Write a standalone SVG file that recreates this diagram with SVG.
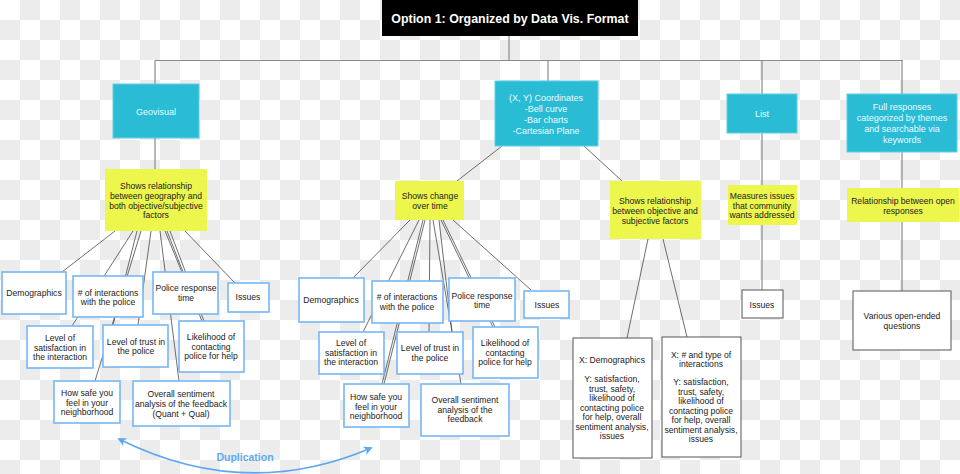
<svg xmlns="http://www.w3.org/2000/svg" width="960" height="474" viewBox="0 0 960 474">
<defs>
<pattern id="chk" width="40" height="40" patternUnits="userSpaceOnUse">
<rect width="40" height="40" fill="#ffffff"/>
<rect x="20" y="0" width="20" height="20" fill="#ececec"/>
<rect x="0" y="20" width="20" height="20" fill="#ececec"/>
</pattern>
<marker id="ah" viewBox="0 0 10 10" refX="8" refY="5" markerWidth="9" markerHeight="9" orient="auto-start-reverse" markerUnits="userSpaceOnUse">
<path d="M0,0 L10,5 L0,10 L3,5 Z" fill="#5ea8f2"/>
</marker>
<style>
text{font-family:"Liberation Sans",Arial,sans-serif;font-size:8.6px;fill:#222;text-anchor:middle}
.title{font-size:12.4px;font-weight:bold;fill:#fff}
.cyan rect{fill:#2bbcd5;stroke:#5fd0e6;stroke-width:1}
.cyan text{fill:#e8fbff;font-size:9px}
.yel rect{fill:#ecf64c}
.blue rect{fill:#fff;stroke:#77b7f6;stroke-width:1.6}
.blk rect{fill:#fff;stroke:#555;stroke-width:1}
.tree line{stroke:#8a8a8a;stroke-width:1.2}
.con line{stroke:#4a4a4a;stroke-width:0.8}
</style>
</defs>
<rect width="960" height="474" fill="url(#chk)"/>

<g id="connectors">
<g class="tree">
<line x1="509" y1="36" x2="509" y2="60.5"/>
<line x1="155" y1="60.5" x2="903" y2="60.5"/>
<line x1="155" y1="60.5" x2="155" y2="169"/>
<line x1="548" y1="60.5" x2="548" y2="81"/>
<line x1="762" y1="60.5" x2="762" y2="290"/>
<line x1="902" y1="60.5" x2="902" y2="291"/>
</g>
<g class="con">
<line x1="502" y1="146" x2="457" y2="181"/>
<line x1="584" y1="146" x2="622" y2="181"/>
<line x1="648" y1="239" x2="627" y2="338"/>
<line x1="663" y1="239" x2="687" y2="337"/>
<line x1="115" y1="231" x2="62" y2="272"/>
<line x1="133" y1="231" x2="72" y2="326"/>
<line x1="137" y1="231" x2="113" y2="325"/>
<line x1="141" y1="231" x2="95" y2="381"/>
<line x1="151" y1="231" x2="138" y2="325"/>
<line x1="160" y1="231" x2="179" y2="381"/>
<line x1="165" y1="231" x2="202" y2="321"/>
<line x1="167" y1="231" x2="183" y2="272"/>
<line x1="170" y1="231" x2="204" y2="321"/>
<line x1="185" y1="231" x2="235" y2="283"/>
<line x1="410" y1="220" x2="353" y2="278"/>
<line x1="419" y1="220" x2="363" y2="332"/>
<line x1="423" y1="220" x2="382" y2="384"/>
<line x1="425" y1="220" x2="384" y2="384"/>
<line x1="430" y1="220" x2="429" y2="332"/>
<line x1="433" y1="220" x2="461" y2="384"/>
<line x1="439" y1="220" x2="452" y2="332"/>
<line x1="441" y1="220" x2="493" y2="327"/>
<line x1="443" y1="220" x2="495" y2="327"/>
<line x1="453" y1="220" x2="531" y2="290"/>
</g>
</g>

<g id="title"><rect x="382" y="0" width="256" height="36" fill="#000"/><text class="title" x="510" y="22.5">Option 1: Organized by Data Vis. Format</text></g>

<g id="geovisual" class="cyan"><rect x="113" y="84" width="86" height="54"/><text x="156" y="115">Geovisual</text></g>
<g id="xy" class="cyan"><rect x="495" y="81" width="103" height="65"/><text x="546" y="101">(X, Y) Coordinates</text><text x="546" y="112">-Bell curve</text><text x="546" y="123">-Bar charts</text><text x="546" y="134">-Cartesian Plane</text></g>
<g id="list" class="cyan"><rect x="727" y="94" width="70" height="39"/><text x="762" y="117">List</text></g>
<g id="fullresp" class="cyan"><rect x="847" y="94" width="110" height="58"/><text x="902" y="110">Full responses</text><text x="902" y="121">categorized by themes</text><text x="902" y="132">and searchable via</text><text x="902" y="143">keywords</text></g>

<g id="y-geo" class="yel"><rect x="105" y="169" width="102" height="62"/><text x="156" y="189">Shows relationship</text><text x="156" y="199">between geography and</text><text x="156" y="208.5">both objective/subjective</text><text x="156" y="218">factors</text></g>
<g id="y-time" class="yel"><rect x="395" y="181" width="69" height="39"/><text x="430" y="199">Shows change</text><text x="430" y="209">over time</text></g>
<g id="y-obj" class="yel"><rect x="610" y="181" width="91" height="58"/><text x="655" y="204">Shows relationship</text><text x="655" y="214">between objective and</text><text x="655" y="224">subjective factors</text></g>
<g id="y-list" class="yel"><rect x="728" y="185" width="69" height="40"/><text x="762" y="199">Measures issues</text><text x="762" y="208.5">that community</text><text x="762" y="218">wants addressed</text></g>
<g id="y-open" class="yel"><rect x="847" y="188" width="112" height="34"/><text x="903" y="204">Relationship between open</text><text x="903" y="214">responses</text></g>

<g id="g-demo" class="blue"><rect x="2" y="272" width="64" height="42"/><text x="34" y="296">Demographics</text></g>
<g id="g-inter" class="blue"><rect x="73" y="276" width="70" height="41"/><text x="108" y="296">&#35; of interactions</text><text x="108" y="305">with the police</text></g>
<g id="g-resp" class="blue"><rect x="153" y="272" width="65" height="42"/><text x="186" y="291">Police response</text><text x="186" y="301">time</text></g>
<g id="g-issues" class="blue"><rect x="228" y="283" width="41" height="29"/><text x="248" y="300">Issues</text></g>
<g id="g-satis" class="blue"><rect x="27" y="326" width="66" height="42"/><text x="60" y="341">Level of</text><text x="60" y="350.5">satisfaction in</text><text x="60" y="360">the interaction</text></g>
<g id="g-trust" class="blue"><rect x="103" y="325" width="65" height="42"/><text x="136" y="345">Level of trust in</text><text x="136" y="354">the police</text></g>
<g id="g-likely" class="blue"><rect x="179" y="321" width="65" height="51"/><text x="211" y="340">Likelihood of</text><text x="211" y="349.5">contacting</text><text x="211" y="359">police for help</text></g>
<g id="g-safe" class="blue"><rect x="54" y="381" width="66" height="42"/><text x="87" y="396">How safe you</text><text x="87" y="406">feel in your</text><text x="87" y="415">neighborhood</text></g>
<g id="g-senti" class="blue"><rect x="133" y="381" width="97" height="45"/><text x="181" y="397">Overall sentiment</text><text x="181" y="407">analysis of the feedback</text><text x="181" y="417">(Quant + Qual)</text></g>

<g id="t-demo" class="blue"><rect x="299" y="278" width="65" height="44"/><text x="331" y="303">Demographics</text></g>
<g id="t-inter" class="blue"><rect x="372" y="281" width="71" height="42"/><text x="407" y="300">&#35; of interactions</text><text x="407" y="310">with the police</text></g>
<g id="t-resp" class="blue"><rect x="449" y="278" width="66" height="43"/><text x="482" y="299">Police response</text><text x="482" y="308">time</text></g>
<g id="t-issues" class="blue"><rect x="524" y="291" width="45" height="27"/><text x="547" y="308">Issues</text></g>
<g id="t-satis" class="blue"><rect x="319" y="332" width="65" height="42"/><text x="351" y="346">Level of</text><text x="351" y="356">satisfaction in</text><text x="351" y="365">the interaction</text></g>
<g id="t-trust" class="blue"><rect x="397" y="332" width="66" height="42"/><text x="430" y="351">Level of trust in</text><text x="430" y="361">the police</text></g>
<g id="t-likely" class="blue"><rect x="473" y="327" width="65" height="51"/><text x="505" y="346">Likelihood of</text><text x="505" y="356">contacting</text><text x="505" y="365">police for help</text></g>
<g id="t-safe" class="blue"><rect x="344" y="384" width="65" height="43"/><text x="376" y="400">How safe you</text><text x="376" y="410">feel in your</text><text x="376" y="419">neighborhood</text></g>
<g id="t-senti" class="blue"><rect x="421" y="384" width="88" height="52"/><text x="465" y="403">Overall sentiment</text><text x="465" y="413">analysis of the</text><text x="465" y="422">feedback</text></g>

<g id="o-demo" class="blk"><rect x="573" y="338" width="79" height="120"/><text x="612" y="363">X: Demographics</text><text x="612" y="382">Y: satisfaction,</text><text x="612" y="391.5">trust, safety,</text><text x="612" y="401">likelihood of</text><text x="612" y="410.5">contacting police</text><text x="612" y="420">for help, overall</text><text x="612" y="429.5">sentiment analysis,</text><text x="612" y="439">issues</text></g>
<g id="o-inter" class="blk"><rect x="662" y="337" width="79" height="120"/><text x="701" y="358">X: &#35; and type of</text><text x="701" y="367">interactions</text><text x="701" y="385">Y: satisfaction,</text><text x="701" y="394.5">trust, safety,</text><text x="701" y="404">likelihood of</text><text x="701" y="413.5">contacting police</text><text x="701" y="423">for help, overall</text><text x="701" y="432.5">sentiment analysis,</text><text x="701" y="442">issues</text></g>
<g id="l-issues" class="blk"><rect x="742" y="290" width="41" height="28"/><text x="762" y="308">Issues</text></g>
<g id="open-q" class="blk"><rect x="853" y="291" width="98" height="59"/><text x="902" y="319">Various open-ended</text><text x="902" y="329">questions</text></g>

<g id="duplication">
<path d="M119,439 Q245,502 371,448" fill="none" stroke="#5ea8f2" stroke-width="1.6" marker-start="url(#ah)" marker-end="url(#ah)"/>
<text x="245" y="461" style="font-size:10.5px;font-weight:bold;fill:#5ea8f2">Duplication</text>
</g>
</svg>
